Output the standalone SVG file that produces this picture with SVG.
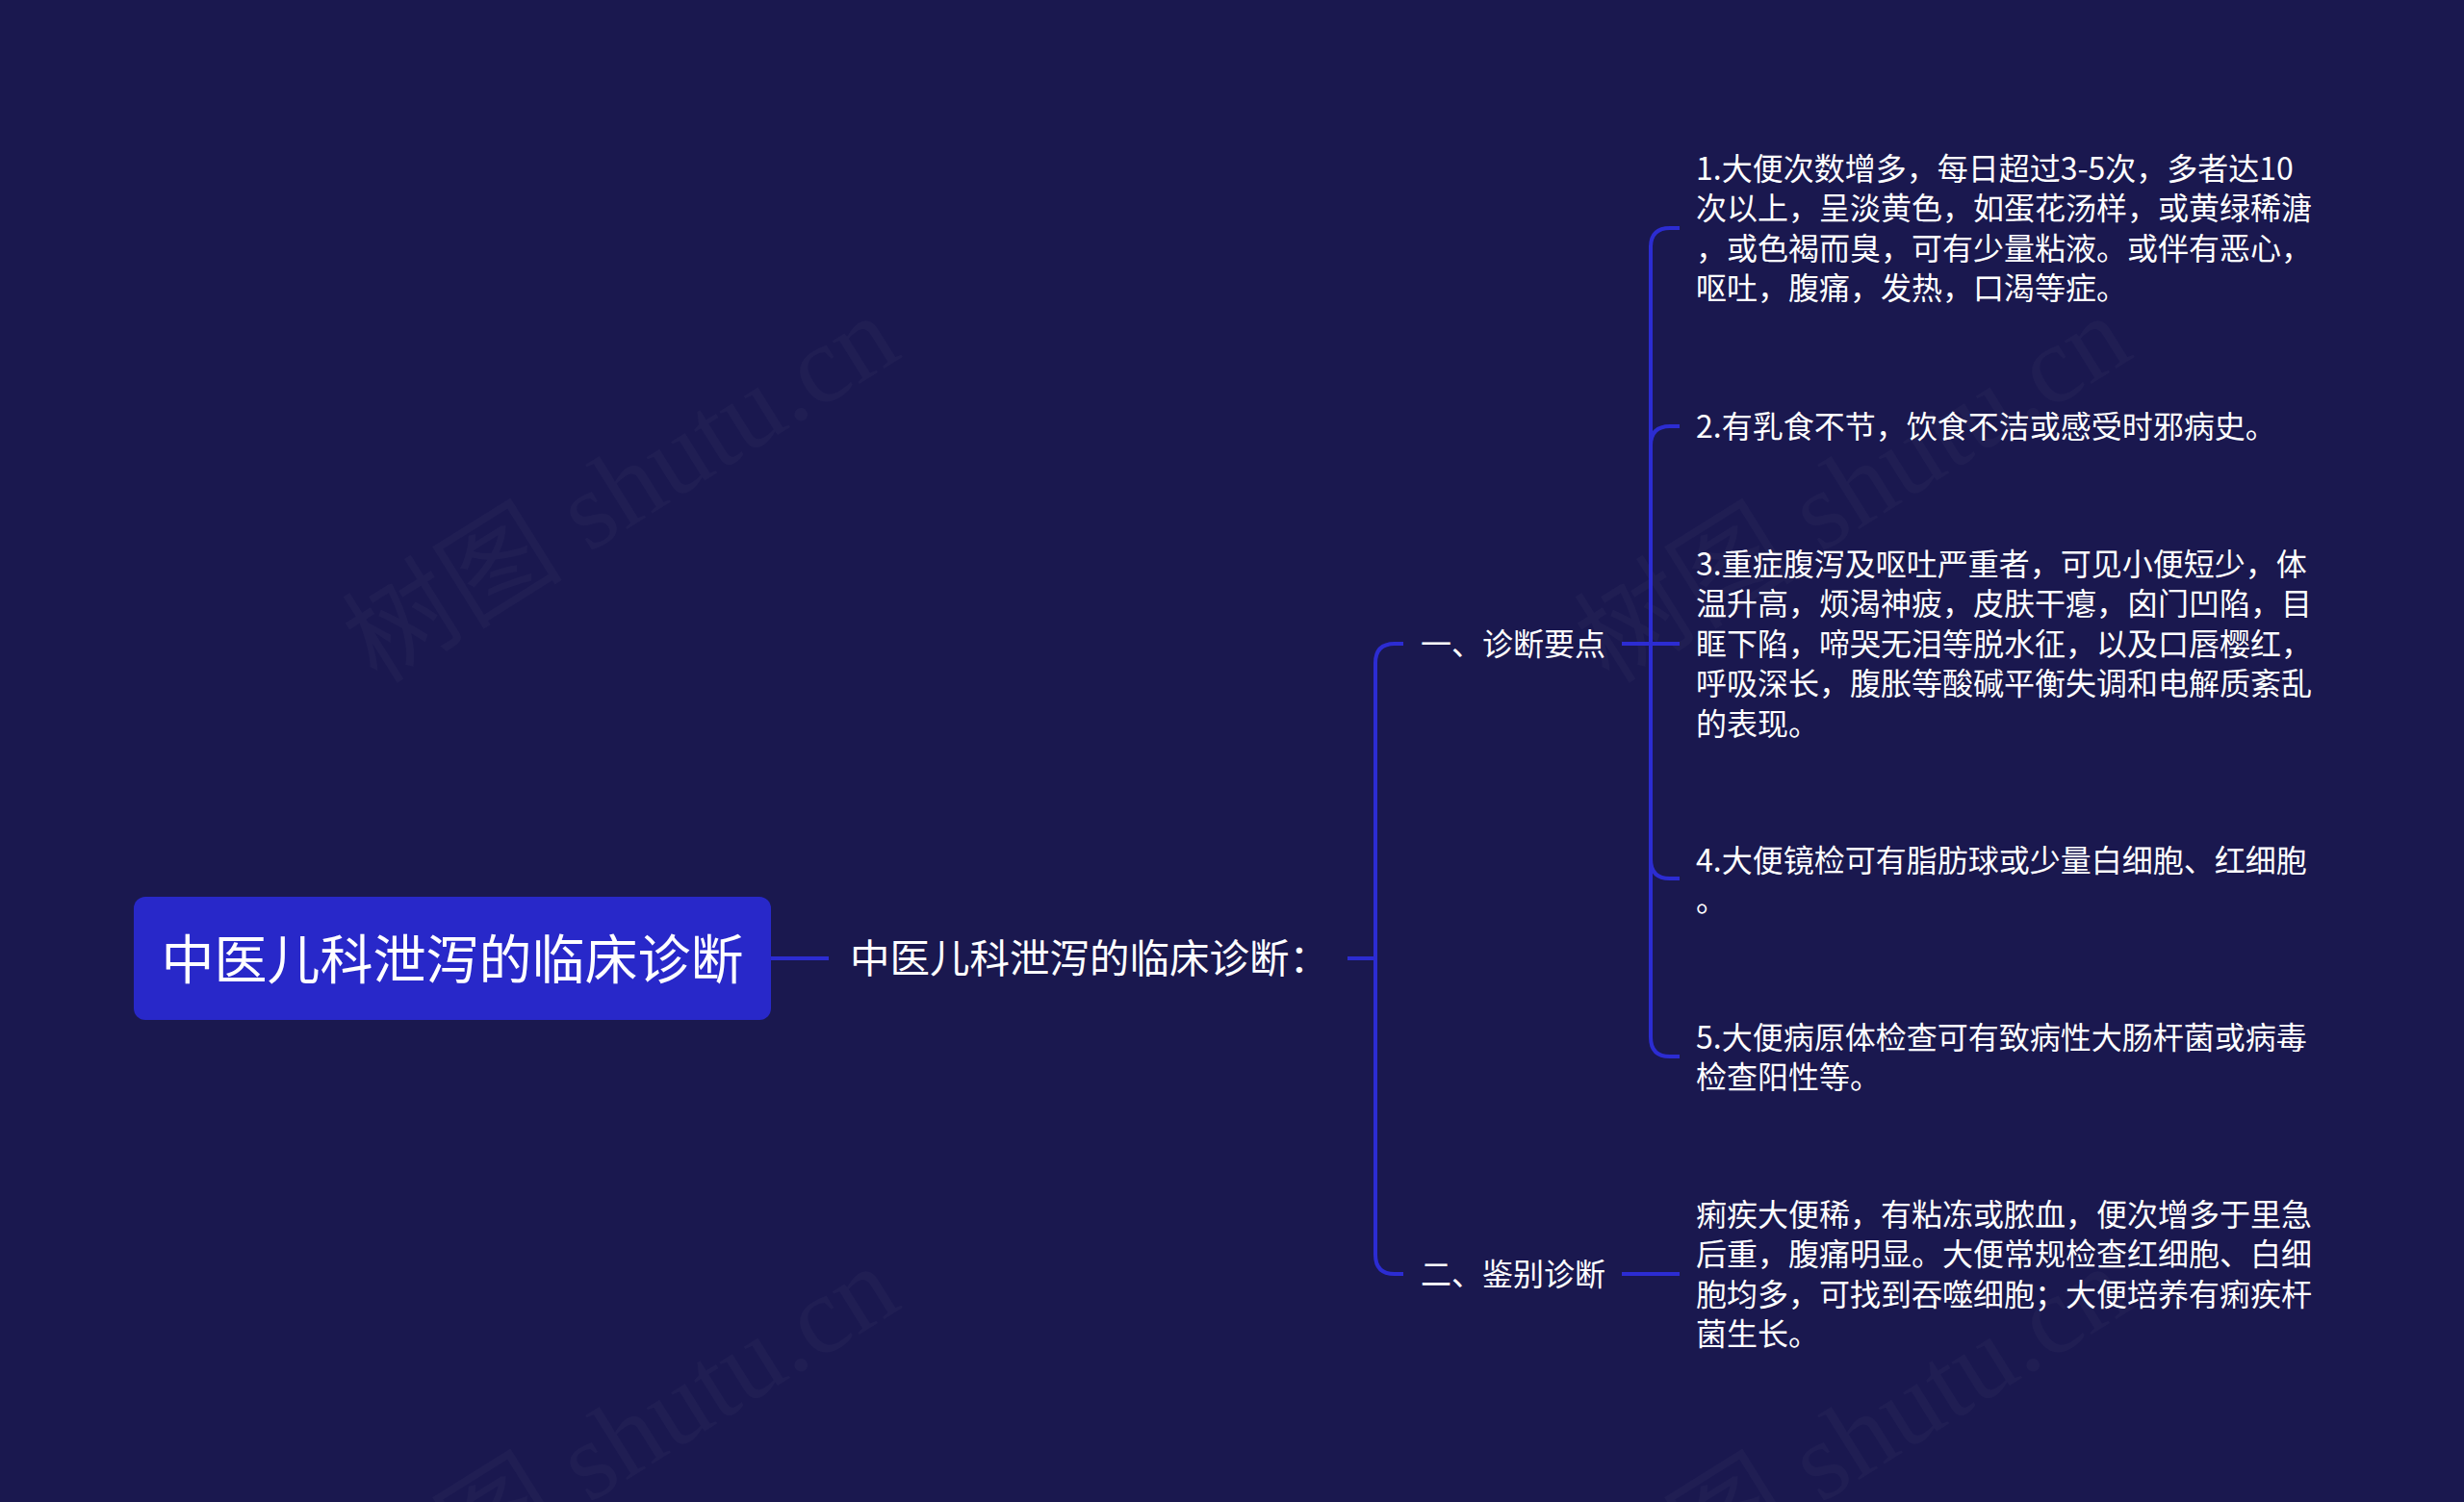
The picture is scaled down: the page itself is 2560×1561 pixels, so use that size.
<svg xmlns="http://www.w3.org/2000/svg" width="2560" height="1561" viewBox="0 0 2560 1561">
<style>
.wm{font-family:"Liberation Serif","Noto Sans CJK SC",serif;font-size:115px;fill:#ffffff;fill-opacity:0.028}
.t{font-family:"Noto Sans CJK SC","Noto Sans",sans-serif;fill:#ffffff}
.s{font-size:32px}
.conn path{fill:none;stroke:#2c2cd2;stroke-width:4;stroke-linecap:butt}
</style>
<rect width="2560" height="1561" fill="#1a184f"/>
<g id="watermarks">
<text class="wm" transform="translate(392,712) rotate(-32)">树图 shutu.cn</text>
<text class="wm" transform="translate(1672,712) rotate(-32)">树图 shutu.cn</text>
<text class="wm" transform="translate(392,1700) rotate(-32)">树图 shutu.cn</text>
<text class="wm" transform="translate(1672,1700) rotate(-32)">树图 shutu.cn</text>
</g>
<g id="connectors" class="conn">
<path d="M 801 996 H 861"/>
<path d="M 1400 996 H 1429 V 689 Q 1429 669 1449 669 H 1458"/>
<path d="M 1400 996 H 1429 V 1304 Q 1429 1324 1449 1324 H 1458"/>
<path d="M 1685 669 H 1715 V 257 Q 1715 237 1735 237 H 1745"/>
<path d="M 1685 669 H 1715 V 463 Q 1715 443 1735 443 H 1745"/>
<path d="M 1685 669 H 1745"/>
<path d="M 1685 669 H 1715 V 893 Q 1715 913 1735 913 H 1745"/>
<path d="M 1685 669 H 1715 V 1078 Q 1715 1098 1735 1098 H 1745"/>
<path d="M 1685 1324 H 1745"/>
</g>
<g id="root">
<rect x="139" y="932" width="662" height="128" rx="12" fill="#2828c9"/>
<text class="t" x="470" y="1017" font-size="55" text-anchor="middle">中医儿科泄泻的临床诊断</text>
</g>
<g id="mid">
<text class="t" x="883" y="1011" font-size="41" textLength="498" lengthAdjust="spacingAndGlyphs">中医儿科泄泻的临床诊断：</text>
</g>
<g id="sec1">
<text class="t s" x="1476" y="681">一、诊断要点</text>
</g>
<g id="sec2">
<text class="t s" x="1476" y="1336">二、鉴别诊断</text>
</g>
<g id="item1">
<text class="t s" x="1762" y="187">1.大便次数增多，每日超过3-5次，多者达10</text>
<text class="t s" x="1762" y="228">次以上，呈淡黄色，如蛋花汤样，或黄绿稀溏</text>
<text class="t s" x="1762" y="270">，或色褐而臭，可有少量粘液。或伴有恶心，</text>
<text class="t s" x="1762" y="311">呕吐，腹痛，发热，口渴等症。</text>
</g>
<g id="item2">
<text class="t s" x="1762" y="455">2.有乳食不节，饮食不洁或感受时邪病史。</text>
</g>
<g id="item3">
<text class="t s" x="1762" y="598">3.重症腹泻及呕吐严重者，可见小便短少，体</text>
<text class="t s" x="1762" y="639">温升高，烦渴神疲，皮肤干瘪，囟门凹陷，目</text>
<text class="t s" x="1762" y="681">眶下陷，啼哭无泪等脱水征，以及口唇樱红，</text>
<text class="t s" x="1762" y="722">呼吸深长，腹胀等酸碱平衡失调和电解质紊乱</text>
<text class="t s" x="1762" y="764">的表现。</text>
</g>
<g id="item4">
<text class="t s" x="1762" y="906">4.大便镜检可有脂肪球或少量白细胞、红细胞</text>
<text class="t s" x="1762" y="947">。</text>
</g>
<g id="item5">
<text class="t s" x="1762" y="1090">5.大便病原体检查可有致病性大肠杆菌或病毒</text>
<text class="t s" x="1762" y="1131">检查阳性等。</text>
</g>
<g id="item6">
<text class="t s" x="1762" y="1274">痢疾大便稀，有粘冻或脓血，便次增多于里急</text>
<text class="t s" x="1762" y="1315">后重，腹痛明显。大便常规检查红细胞、白细</text>
<text class="t s" x="1762" y="1357">胞均多，可找到吞噬细胞；大便培养有痢疾杆</text>
<text class="t s" x="1762" y="1398">菌生长。</text>
</g>
</svg>
